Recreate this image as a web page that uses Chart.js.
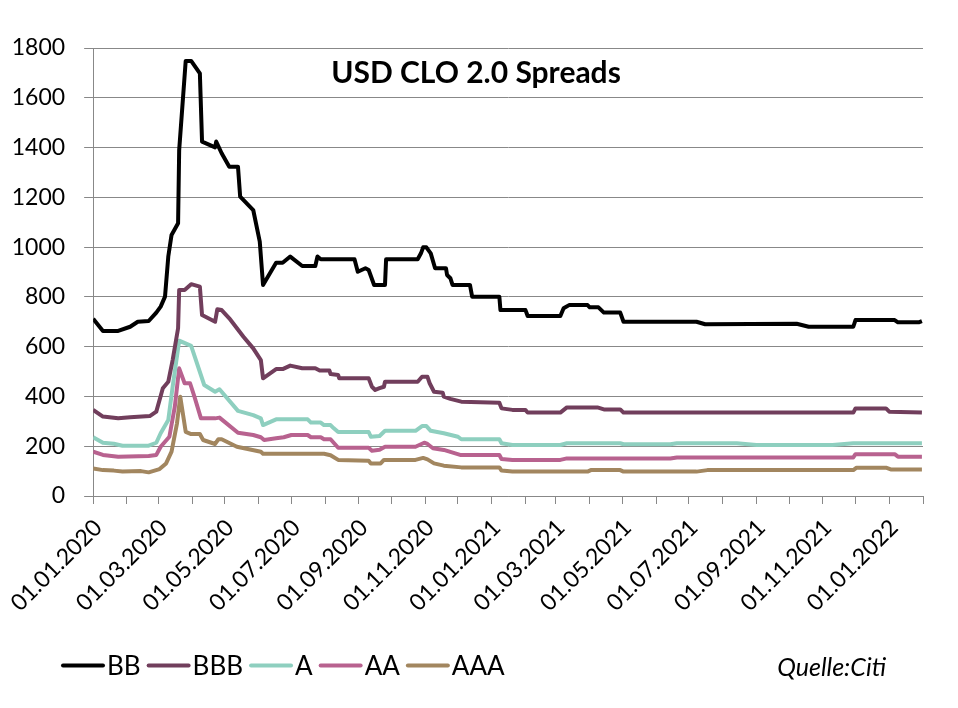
<!DOCTYPE html>
<html>
<head>
<meta charset="utf-8">
<script src="https://cdn.jsdelivr.net/npm/chart.js@4.4.1/dist/chart.umd.min.js"></script>
<style>
  html, body { margin: 0; padding: 0; background: #fff; }
  #wrap { width: 958px; height: 708px; }
</style>
</head>
<body>
<div id="wrap"><canvas id="spreadChart" width="958" height="708"></canvas></div>
<script>
// USD CLO 2.0 spreads (bp)
const chartTitle = 'USD CLO 2.0 Spreads';
const sourceNote = 'Quelle:Citi';

const monthTicks = ['01.01.2020','01.02.2020','01.03.2020','01.04.2020','01.05.2020','01.06.2020',
  '01.07.2020','01.08.2020','01.09.2020','01.10.2020','01.11.2020','01.12.2020',
  '01.01.2021','01.02.2021','01.03.2021','01.04.2021','01.05.2021','01.06.2021',
  '01.07.2021','01.08.2021','01.09.2021','01.10.2021','01.11.2021','01.12.2021',
  '01.01.2022','01.02.2022'];
const xTickLabels = ['01.01.2020','01.03.2020','01.05.2020','01.07.2020','01.09.2020','01.11.2020',
  '01.01.2021','01.03.2021','01.05.2021','01.07.2021','01.09.2021','01.11.2021','01.01.2022'];
const yTicks = [0, 200, 400, 600, 800, 1000, 1200, 1400, 1600, 1800];

const bbDates = ['01.01.2020','10.01.2020','24.01.2020','04.02.2020','11.02.2020','21.02.2020','28.02.2020',
  '03.03.2020','07.03.2020','10.03.2020','13.03.2020','19.03.2020','20.03.2020','26.03.2020','31.03.2020',
  '08.04.2020','10.04.2020','22.04.2020','23.04.2020','28.04.2020','05.05.2020','13.05.2020','15.05.2020',
  '27.05.2020','02.06.2020','05.06.2020','17.06.2020','23.06.2020','30.06.2020','11.07.2020','23.07.2020',
  '25.07.2020','28.07.2020','28.08.2020','31.08.2020','07.09.2020','10.09.2020','15.09.2020','25.09.2020',
  '26.09.2020','25.10.2020','28.10.2020','30.10.2020','02.11.2020','06.11.2020','10.11.2020','20.11.2020',
  '21.11.2020','24.11.2020','26.11.2020','12.12.2020','14.12.2020','08.01.2021','09.01.2021','01.02.2021',
  '03.02.2021','05.03.2021','08.03.2021','13.03.2021','30.03.2021','01.04.2021','09.04.2021','14.04.2021',
  '29.04.2021','02.05.2021','08.07.2021','16.07.2021','08.10.2021','19.10.2021','29.11.2021','01.12.2021',
  '06.01.2022','09.01.2022','28.01.2022','31.01.2022'];
const bbValues = [712, 663, 663, 680, 700, 703, 737,
  761, 801, 962, 1049, 1096, 1390, 1748, 1748,
  1698, 1424, 1401, 1424, 1377, 1323, 1323, 1203,
  1149, 1022, 848, 937, 937, 962, 924, 924,
  962, 951, 951, 901, 915, 908, 848, 848,
  951, 951, 975, 999, 999, 975, 915, 915,
  888, 875, 848, 848, 801, 801, 747, 747,
  723, 723, 754, 767, 767, 758, 758, 737,
  737, 700, 700, 690, 692, 680, 680, 707,
  707, 698, 698, 703];

const bbbDates = ['01.01.2020','10.01.2020','24.01.2020','04.02.2020','22.02.2020','28.02.2020','05.03.2020',
  '10.03.2020','14.03.2020','19.03.2020','20.03.2020','25.03.2020','31.03.2020','08.04.2020','10.04.2020',
  '22.04.2020','24.04.2020','28.04.2020','05.05.2020','18.05.2020','27.05.2020','03.06.2020','05.06.2020',
  '17.06.2020','23.06.2020','30.06.2020','11.07.2020','23.07.2020','27.07.2020','05.08.2020','06.08.2020',
  '13.08.2020','14.08.2020','10.09.2020','13.09.2020','16.09.2020','20.09.2020','24.09.2020','25.09.2020',
  '25.10.2020','29.10.2020','03.11.2020','05.11.2020','09.11.2020','17.11.2020','18.11.2020','24.11.2020',
  '04.12.2020','08.01.2021','10.01.2021','20.01.2021','01.02.2021','03.02.2021','05.03.2021','11.03.2021',
  '08.04.2021','14.04.2021','29.04.2021','02.05.2021','29.11.2021','01.12.2021','29.12.2021','01.01.2022',
  '31.01.2022'];
const bbbValues = [346, 319, 312, 316, 321, 339, 433,
  459, 546, 674, 828, 828, 851, 841, 727,
  700, 750, 747, 714, 640, 593, 546, 473,
  510, 510, 524, 513, 513, 504, 504, 490,
  486, 473, 473, 439, 426, 433, 439, 459,
  459, 479, 479, 453, 419, 415, 399, 390,
  379, 375, 352, 346, 346, 335, 335, 356,
  356, 348, 348, 335, 335, 352, 352, 339,
  335];

const aDates = ['01.01.2020','10.01.2020','20.01.2020','28.01.2020','21.02.2020','28.02.2020','03.03.2020',
  '10.03.2020','14.03.2020','20.03.2020','31.03.2020','12.04.2020','22.04.2020','26.04.2020','13.05.2020',
  '27.05.2020','03.06.2020','05.06.2020','17.06.2020','16.07.2020','19.07.2020','28.07.2020','31.07.2020',
  '06.08.2020','09.08.2020','13.08.2020','10.09.2020','12.09.2020','20.09.2020','25.09.2020','23.10.2020',
  '29.10.2020','02.11.2020','06.11.2020','18.11.2020','01.12.2020','04.12.2020','08.01.2021','10.01.2021',
  '20.01.2021','05.03.2021','11.03.2021','29.04.2021','02.05.2021','14.06.2021','20.06.2021','14.08.2021',
  '01.09.2021','10.11.2021','29.11.2021','31.01.2022'];
const aValues = [236, 214, 210, 202, 202, 214, 252,
  305, 439, 624, 603, 446, 419, 429, 342,
  325, 312, 285, 308, 308, 295, 295, 285,
  285, 272, 257, 257, 238, 241, 262, 262,
  281, 281, 262, 252, 238, 228, 228, 212,
  205, 205, 212, 212, 208, 208, 212, 212,
  205, 205, 212, 212];

const aaDates = ['01.01.2020','10.01.2020','24.01.2020','21.02.2020','28.02.2020','03.03.2020','11.03.2020',
  '16.03.2020','20.03.2020','25.03.2020','30.03.2020','03.04.2020','09.04.2020','22.04.2020','26.04.2020',
  '13.05.2020','27.05.2020','03.06.2020','06.06.2020','17.06.2020','24.06.2020','01.07.2020','16.07.2020',
  '19.07.2020','28.07.2020','31.07.2020','06.08.2020','13.08.2020','10.09.2020','13.09.2020','20.09.2020',
  '25.09.2020','23.10.2020','31.10.2020','03.11.2020','08.11.2020','18.11.2020','03.12.2020','08.01.2021',
  '10.01.2021','20.01.2021','05.03.2021','11.03.2021','14.06.2021','20.06.2021','29.11.2021','01.12.2021',
  '06.01.2022','09.01.2022','31.01.2022'];
const aaValues = [178, 165, 158, 161, 165, 198, 238,
  359, 513, 453, 453, 399, 312, 312, 315,
  254, 245, 236, 225, 232, 236, 245, 245,
  236, 236, 228, 228, 194, 194, 182, 186,
  198, 198, 214, 209, 192, 185, 165, 165,
  149, 145, 145, 151, 151, 155, 155, 168,
  168, 158, 158];

const aaaDates = ['01.01.2020','10.01.2020','20.01.2020','28.01.2020','14.02.2020','21.02.2020','02.03.2020',
  '08.03.2020','13.03.2020','18.03.2020','21.03.2020','26.03.2020','31.03.2020','08.04.2020','11.04.2020',
  '22.04.2020','25.04.2020','28.04.2020','12.05.2020','03.06.2020','05.06.2020','31.07.2020','06.08.2020',
  '13.08.2020','10.09.2020','12.09.2020','21.09.2020','24.09.2020','23.10.2020','30.10.2020','03.11.2020',
  '09.11.2020','18.11.2020','04.12.2020','08.01.2021','10.01.2021','20.01.2021','30.03.2021','02.04.2021',
  '29.04.2021','02.05.2021','08.07.2021','18.07.2021','29.11.2021','02.12.2021','29.12.2021','03.01.2022',
  '31.01.2022'];
const aaaValues = [111, 104, 102, 98, 100, 95, 108,
  131, 178, 292, 399, 258, 249, 249, 225,
  209, 228, 228, 198, 178, 170, 170, 164,
  145, 142, 131, 131, 145, 145, 153, 147,
  131, 122, 115, 115, 102, 98, 98, 104,
  104, 98, 98, 104, 104, 114, 114, 106,
  106];

function dayNum(s) {
  const [d, m, y] = s.split('.').map(Number);
  return (Date.UTC(y, m - 1, d) - Date.UTC(2020, 0, 1)) / 864e5;
}
function toPoints(dates, values) {
  return dates.map((d, i) => ({ x: dayNum(d), y: values[i] }));
}

const tickDays = monthTicks.map(dayNum);
const labelByDay = {};
xTickLabels.forEach(s => { labelByDay[dayNum(s)] = s; });

const seriesDefs = [
  { label: 'BB',  color: '#000000', dates: bbDates,  values: bbValues },
  { label: 'BBB', color: '#713e5c', dates: bbbDates, values: bbbValues },
  { label: 'A',   color: '#8ecfbf', dates: aDates,   values: aValues },
  { label: 'AA',  color: '#b8628f', dates: aaDates,  values: aaValues },
  { label: 'AAA', color: '#a2865f', dates: aaaDates, values: aaaValues }
];

// title, legend and source note drawn straight onto the canvas
const decorPlugin = {
  id: 'decor',
  afterDraw(chart) {
    const ctx = chart.ctx;
    ctx.save();
    ctx.fillStyle = '#000';
    ctx.font = 'bold 30px Lato';
    ctx.textAlign = 'center';
    ctx.textBaseline = 'alphabetic';
    ctx.fillText(chartTitle, 476, 83);

    ctx.font = '26px Lato';
    ctx.textAlign = 'left';
    let x = 63;
    chart.data.datasets.forEach(ds => {
      ctx.strokeStyle = ds.borderColor;
      ctx.lineWidth = 4;
      ctx.lineCap = 'round';
      ctx.beginPath();
      ctx.moveTo(x, 665.5);
      ctx.lineTo(x + 40, 665.5);
      ctx.stroke();
      x += 44;
      ctx.fillText(ds.label, x, 675);
      x += ctx.measureText(ds.label).width + 8;
    });

    ctx.font = 'italic 25px Lato';
    ctx.textAlign = 'right';
    ctx.fillText(sourceNote, 886, 676);
    ctx.restore();
  }
};

const gridGray = '#888888';

new Chart(document.getElementById('spreadChart'), {
  type: 'line',
  data: {
    datasets: seriesDefs.map(s => ({
      label: s.label,
      data: toPoints(s.dates, s.values),
      borderColor: s.color,
      backgroundColor: s.color,
      borderWidth: 4,
      pointRadius: 0,
      tension: 0,
      borderJoinStyle: 'round',
      fill: false
    }))
  },
  options: {
    responsive: false,
    animation: false,
    layout: { padding: { left: 0, top: 48, right: 35, bottom: 0 } },
    plugins: { legend: { display: false }, tooltip: { enabled: false }, title: { display: false } },
    scales: {
      x: {
        type: 'linear',
        min: 0,
        max: dayNum('01.02.2022'),
        afterBuildTicks: scale => { scale.ticks = tickDays.map(v => ({ value: v })); },
        afterFit: scale => { scale.height = 212; },
        grid: { drawOnChartArea: false, drawTicks: true, tickLength: 8, color: gridGray, lineWidth: 1 },
        border: { color: gridGray, width: 1 },
        ticks: {
          autoSkip: false,
          minRotation: 45,
          maxRotation: 45,
          padding: 10,
          labelOffset: 5,
          color: '#000',
          font: { family: 'Lato', size: 23 },
          callback: v => labelByDay[v] || ''
        }
      },
      y: {
        min: 0,
        max: 1800,
        afterBuildTicks: scale => { scale.ticks = yTicks.map(v => ({ value: v })); },
        afterFit: scale => { scale.width = 91; },
        grid: { color: gridGray, lineWidth: 1, tickLength: 9 },
        border: { color: gridGray, width: 1 },
        ticks: {
          padding: 19,
          color: '#000',
          font: { family: 'Lato', size: 23 },
          callback: v => String(v)
        }
      }
    }
  },
  plugins: [decorPlugin]
});
</script>
</body>
</html>
